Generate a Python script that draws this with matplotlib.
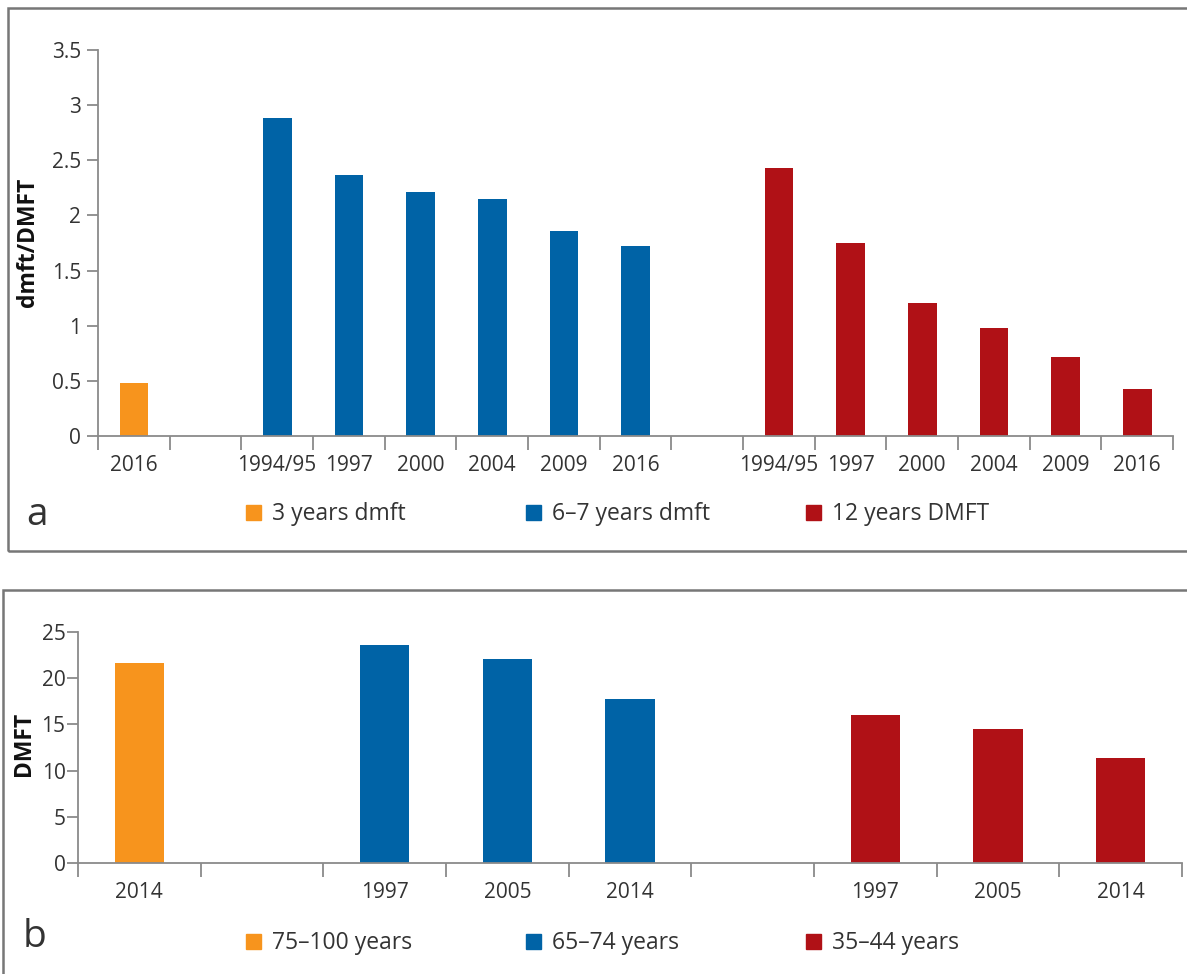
import numpy as np
import matplotlib.pyplot as plt
from matplotlib.patches import Rectangle

plt.rcParams['font.family'] = ['Open Sans', 'DejaVu Sans']

ORANGE = '#F7941D'
BLUE = '#0063A6'
RED = '#B01116'
TEXT = '#333333'
SPINE = '#8a8a8a'

# panel a: children
a_years_3 = ['2016']
a_vals_3 = [0.48]
a_years = ['1994/95', '1997', '2000', '2004', '2009', '2016']
a_vals_67 = [2.88, 2.37, 2.21, 2.15, 1.86, 1.72]
a_vals_12 = [2.43, 1.75, 1.21, 0.98, 0.72, 0.43]
a_legend = ['3 years dmft', '6\u20137 years dmft', '12 years DMFT']

# panel b: adults and seniors
b_years_75 = ['2014']
b_vals_75 = [21.6]
b_years = ['1997', '2005', '2014']
b_vals_65 = [23.6, 22.1, 17.8]
b_vals_35 = [16.0, 14.5, 11.4]
b_legend = ['75\u2013100 years', '65\u201374 years', '35\u201344 years']

W, H = 1187, 974
fig = plt.figure(figsize=(W / 100, H / 100), dpi=100)


def fx(px):
    return px / W


def fy(py):
    return 1 - py / H


def grouped_bars(ax, groups, colors, ylim, yticks, yticklabels):
    # each group is followed by one empty slot
    centers, labels = [], []
    start = 0
    for (years, vals), c in zip(groups, colors):
        pos = start + np.arange(len(years)) + 0.5
        ax.bar(pos, vals, width=0.4, color=c, zorder=2)
        centers += list(pos)
        labels += years
        start += len(years) + 1
    nslots = start - 1
    ax.set_xlim(0, nslots)
    ax.set_ylim(*ylim)
    ax.set_xticks(np.arange(nslots + 1))
    ax.set_xticklabels([])
    ax.set_xticks(centers, labels, minor=True)
    ax.tick_params(axis='x', which='major', direction='out', length=10,
                   width=1.3, color=SPINE)
    ax.tick_params(axis='x', which='minor', length=0, pad=14,
                   labelsize=15, labelcolor=TEXT)
    ax.set_yticks(yticks, yticklabels)
    ax.tick_params(axis='y', direction='out', length=8, width=1.3,
                   color=SPINE, labelsize=15, labelcolor=TEXT, pad=4)
    for s in ['top', 'right']:
        ax.spines[s].set_visible(False)
    for s in ['left', 'bottom']:
        ax.spines[s].set_color(SPINE)
        ax.spines[s].set_linewidth(1.3)


def legend_row(items, colors, y_px):
    for i, (lab, c) in enumerate(zip(items, colors)):
        x0 = 246 + i * 280
        fig.patches.append(Rectangle((fx(x0), fy(y_px + 7)), fx(15), 15 / H,
                                     color=c, transform=fig.transFigure))
        fig.text(fx(x0 + 26), fy(y_px + 1), lab, fontsize=16.5, color=TEXT,
                 va='center', ha='left')


# frames around the panels
fig.patches.append(Rectangle((fx(8), fy(551)), 1.2, (551 - 8) / H, fill=False,
                             edgecolor='#777777', linewidth=1.8,
                             transform=fig.transFigure))
fig.patches.append(Rectangle((fx(3), fy(1100)), 1.2, (1100 - 590) / H, fill=False,
                             edgecolor='#777777', linewidth=1.8,
                             transform=fig.transFigure))

ax_a = fig.add_axes([fx(98), fy(436), fx(1173 - 98), (436 - 50) / H])
grouped_bars(ax_a, [(a_years_3, a_vals_3), (a_years, a_vals_67), (a_years, a_vals_12)],
             [ORANGE, BLUE, RED], (0, 3.5),
             np.arange(0, 3.51, 0.5), ['0', '0.5', '1', '1.5', '2', '2.5', '3', '3.5'])
fig.text(fx(28), fy(242), 'dmft/DMFT', rotation=90, fontsize=16.5, fontweight='bold',
         color='#111111', ha='center', va='center')
fig.text(fx(37), fy(515), 'a', fontsize=28, color=TEXT, ha='center', va='center')
legend_row(a_legend, [ORANGE, BLUE, RED], 513)

ax_b = fig.add_axes([fx(78), fy(863), fx(1182 - 78), (863 - 632) / H])
grouped_bars(ax_b, [(b_years_75, b_vals_75), (b_years, b_vals_65), (b_years, b_vals_35)],
             [ORANGE, BLUE, RED], (0, 25),
             np.arange(0, 26, 5), ['0', '5', '10', '15', '20', '25'])
ax_b.tick_params(axis='y', pad=1)
fig.text(fx(24), fy(744), 'DMFT', rotation=90, fontsize=16.5, fontweight='bold',
         color='#111111', ha='center', va='center')
fig.text(fx(34), fy(937), 'b', fontsize=28, color=TEXT, ha='center', va='center')
legend_row(b_legend, [ORANGE, BLUE, RED], 942)

fig.savefig('out.png', dpi=100)
